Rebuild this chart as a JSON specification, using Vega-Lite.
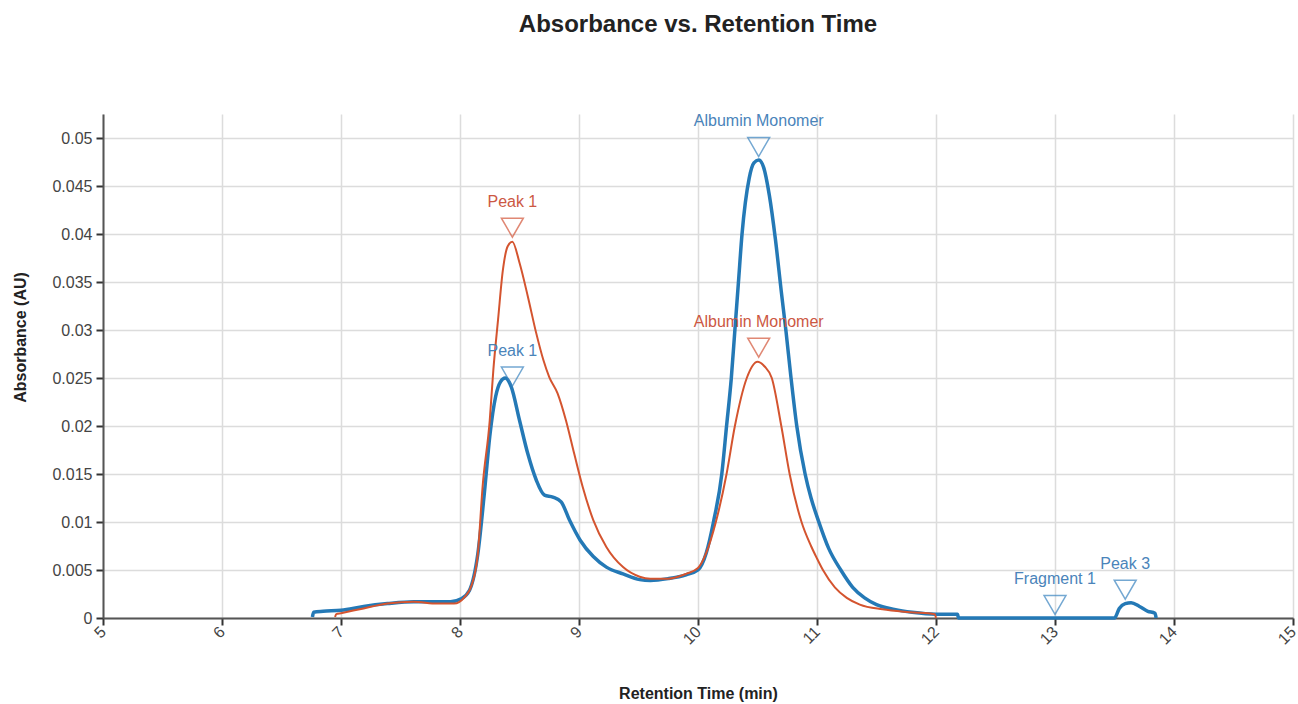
{
  "$schema": "https://vega.github.io/schema/vega-lite/v6.json",
  "width": 1190,
  "height": 504,
  "autosize": {"type": "none"},
  "padding": {"left": 103, "top": 114, "right": 5, "bottom": 86},
  "background": "white",
  "title": {
    "text": "Absorbance vs. Retention Time",
    "font": "Liberation Sans",
    "fontSize": 24,
    "fontWeight": "bold",
    "color": "#222222",
    "anchor": "middle",
    "offset": 76
  },
  "config": {
    "view": {"stroke": null},
    "axis": {
      "labelFont": "Liberation Sans",
      "labelFontSize": 16,
      "labelColor": "#444444",
      "titleFont": "Liberation Sans",
      "titleFontSize": 16,
      "titleFontWeight": "bold",
      "titleColor": "#222222",
      "domainColor": "#555555",
      "domainWidth": 2,
      "tickColor": "#333333",
      "tickWidth": 2,
      "tickSize": 7,
      "gridColor": "#dcdcdc",
      "gridWidth": 1.5
    }
  },
  "datasets": {
    "curves": [
      {"t": 6.76, "a": 0.0001, "s": "blue"},
      {"t": 6.77, "a": 0.0006, "s": "blue"},
      {"t": 6.85, "a": 0.0007, "s": "blue"},
      {"t": 7.0, "a": 0.0008, "s": "blue"},
      {"t": 7.19, "a": 0.0012, "s": "blue"},
      {"t": 7.39, "a": 0.0015, "s": "blue"},
      {"t": 7.61, "a": 0.0017, "s": "blue"},
      {"t": 7.78, "a": 0.0017, "s": "blue"},
      {"t": 7.92, "a": 0.0017, "s": "blue"},
      {"t": 8.01, "a": 0.002, "s": "blue"},
      {"t": 8.08, "a": 0.0029, "s": "blue"},
      {"t": 8.15, "a": 0.0067, "s": "blue"},
      {"t": 8.21, "a": 0.0137, "s": "blue"},
      {"t": 8.25, "a": 0.0189, "s": "blue"},
      {"t": 8.3, "a": 0.0231, "s": "blue"},
      {"t": 8.34, "a": 0.0246, "s": "blue"},
      {"t": 8.38, "a": 0.025, "s": "blue"},
      {"t": 8.43, "a": 0.0241, "s": "blue"},
      {"t": 8.5, "a": 0.0206, "s": "blue"},
      {"t": 8.57, "a": 0.0171, "s": "blue"},
      {"t": 8.64, "a": 0.0144, "s": "blue"},
      {"t": 8.71, "a": 0.0128, "s": "blue"},
      {"t": 8.78, "a": 0.0126, "s": "blue"},
      {"t": 8.85, "a": 0.0121, "s": "blue"},
      {"t": 8.92, "a": 0.0102, "s": "blue"},
      {"t": 9.01, "a": 0.0081, "s": "blue"},
      {"t": 9.12, "a": 0.0064, "s": "blue"},
      {"t": 9.23, "a": 0.0053, "s": "blue"},
      {"t": 9.37, "a": 0.0046, "s": "blue"},
      {"t": 9.51, "a": 0.004, "s": "blue"},
      {"t": 9.6, "a": 0.0039, "s": "blue"},
      {"t": 9.75, "a": 0.0041, "s": "blue"},
      {"t": 9.9, "a": 0.0045, "s": "blue"},
      {"t": 10.0, "a": 0.005, "s": "blue"},
      {"t": 10.07, "a": 0.0068, "s": "blue"},
      {"t": 10.13, "a": 0.01, "s": "blue"},
      {"t": 10.2, "a": 0.015, "s": "blue"},
      {"t": 10.24, "a": 0.02, "s": "blue"},
      {"t": 10.28, "a": 0.025, "s": "blue"},
      {"t": 10.31, "a": 0.03, "s": "blue"},
      {"t": 10.34, "a": 0.035, "s": "blue"},
      {"t": 10.37, "a": 0.04, "s": "blue"},
      {"t": 10.43, "a": 0.0458, "s": "blue"},
      {"t": 10.47, "a": 0.0474, "s": "blue"},
      {"t": 10.51, "a": 0.0477, "s": "blue"},
      {"t": 10.55, "a": 0.047, "s": "blue"},
      {"t": 10.6, "a": 0.044, "s": "blue"},
      {"t": 10.65, "a": 0.0395, "s": "blue"},
      {"t": 10.7, "a": 0.034, "s": "blue"},
      {"t": 10.74, "a": 0.0298, "s": "blue"},
      {"t": 10.78, "a": 0.0252, "s": "blue"},
      {"t": 10.83, "a": 0.02, "s": "blue"},
      {"t": 10.9, "a": 0.015, "s": "blue"},
      {"t": 10.95, "a": 0.0125, "s": "blue"},
      {"t": 11.01, "a": 0.0102, "s": "blue"},
      {"t": 11.1, "a": 0.0072, "s": "blue"},
      {"t": 11.2, "a": 0.005, "s": "blue"},
      {"t": 11.3, "a": 0.0032, "s": "blue"},
      {"t": 11.4, "a": 0.0021, "s": "blue"},
      {"t": 11.5, "a": 0.0014, "s": "blue"},
      {"t": 11.65, "a": 0.0009, "s": "blue"},
      {"t": 11.8, "a": 0.0006, "s": "blue"},
      {"t": 12.0, "a": 0.0004, "s": "blue"},
      {"t": 12.18, "a": 0.0004, "s": "blue"},
      {"t": 12.19, "a": 0.0, "s": "blue"},
      {"t": 13.5, "a": 0.0, "s": "blue"},
      {"t": 13.54, "a": 0.001, "s": "blue"},
      {"t": 13.59, "a": 0.0015, "s": "blue"},
      {"t": 13.64, "a": 0.0016, "s": "blue"},
      {"t": 13.71, "a": 0.0012, "s": "blue"},
      {"t": 13.78, "a": 0.0007, "s": "blue"},
      {"t": 13.84, "a": 0.0005, "s": "blue"},
      {"t": 13.85, "a": 0.0, "s": "blue"},
      {"t": 6.95, "a": 0.0001, "s": "red"},
      {"t": 6.96, "a": 0.0004, "s": "red"},
      {"t": 7.0, "a": 0.0005, "s": "red"},
      {"t": 7.19, "a": 0.001, "s": "red"},
      {"t": 7.39, "a": 0.0015, "s": "red"},
      {"t": 7.61, "a": 0.0017, "s": "red"},
      {"t": 7.81, "a": 0.0015, "s": "red"},
      {"t": 7.95, "a": 0.0015, "s": "red"},
      {"t": 8.04, "a": 0.0022, "s": "red"},
      {"t": 8.1, "a": 0.0035, "s": "red"},
      {"t": 8.15, "a": 0.0067, "s": "red"},
      {"t": 8.19, "a": 0.0137, "s": "red"},
      {"t": 8.25, "a": 0.0206, "s": "red"},
      {"t": 8.28, "a": 0.0258, "s": "red"},
      {"t": 8.32, "a": 0.0311, "s": "red"},
      {"t": 8.36, "a": 0.0362, "s": "red"},
      {"t": 8.4, "a": 0.0387, "s": "red"},
      {"t": 8.44, "a": 0.0392, "s": "red"},
      {"t": 8.5, "a": 0.037, "s": "red"},
      {"t": 8.57, "a": 0.0335, "s": "red"},
      {"t": 8.64, "a": 0.0297, "s": "red"},
      {"t": 8.7, "a": 0.0269, "s": "red"},
      {"t": 8.75, "a": 0.0251, "s": "red"},
      {"t": 8.82, "a": 0.0234, "s": "red"},
      {"t": 8.89, "a": 0.0206, "s": "red"},
      {"t": 8.96, "a": 0.0171, "s": "red"},
      {"t": 9.03, "a": 0.0137, "s": "red"},
      {"t": 9.12, "a": 0.0102, "s": "red"},
      {"t": 9.23, "a": 0.0074, "s": "red"},
      {"t": 9.37, "a": 0.0053, "s": "red"},
      {"t": 9.51, "a": 0.0043, "s": "red"},
      {"t": 9.6, "a": 0.0041, "s": "red"},
      {"t": 9.75, "a": 0.0041, "s": "red"},
      {"t": 9.9, "a": 0.0046, "s": "red"},
      {"t": 10.0, "a": 0.0052, "s": "red"},
      {"t": 10.07, "a": 0.0068, "s": "red"},
      {"t": 10.15, "a": 0.01, "s": "red"},
      {"t": 10.24, "a": 0.015, "s": "red"},
      {"t": 10.31, "a": 0.02, "s": "red"},
      {"t": 10.41, "a": 0.025, "s": "red"},
      {"t": 10.5, "a": 0.0267, "s": "red"},
      {"t": 10.56, "a": 0.0262, "s": "red"},
      {"t": 10.62, "a": 0.025, "s": "red"},
      {"t": 10.7, "a": 0.02, "s": "red"},
      {"t": 10.77, "a": 0.015, "s": "red"},
      {"t": 10.87, "a": 0.01, "s": "red"},
      {"t": 10.95, "a": 0.0075, "s": "red"},
      {"t": 11.0, "a": 0.0062, "s": "red"},
      {"t": 11.05, "a": 0.005, "s": "red"},
      {"t": 11.15, "a": 0.0032, "s": "red"},
      {"t": 11.25, "a": 0.0021, "s": "red"},
      {"t": 11.36, "a": 0.0014, "s": "red"},
      {"t": 11.55, "a": 0.0009, "s": "red"},
      {"t": 11.78, "a": 0.0006, "s": "red"},
      {"t": 11.99, "a": 0.0004, "s": "red"},
      {"t": 12.0, "a": 0.0, "s": "red"}
    ],
    "peaks": [
      {"t": 8.44, "a": 0.0238, "s": "blue", "label": "Peak 1"},
      {"t": 10.51, "a": 0.0477, "s": "blue", "label": "Albumin Monomer"},
      {"t": 13.0, "a": 0.0, "s": "blue", "label": "Fragment 1"},
      {"t": 13.59, "a": 0.0016, "s": "blue", "label": "Peak 3"},
      {"t": 8.44, "a": 0.0393, "s": "red", "label": "Peak 1"},
      {"t": 10.51, "a": 0.0268, "s": "red", "label": "Albumin Monomer"}
    ]
  },
  "encoding": {
    "x": {
      "field": "t",
      "type": "quantitative",
      "scale": {"domain": [5, 15], "nice": false, "zero": false},
      "axis": {
        "title": "Retention Time (min)",
        "values": [5, 6, 7, 8, 9, 10, 11, 12, 13, 14, 15],
        "labelAngle": -45,
        "labelAlign": "right",
        "labelBaseline": "middle",
        "labelPadding": 4,
        "titleY": 75,
        "titleBaseline": "middle"
      }
    },
    "y": {
      "field": "a",
      "type": "quantitative",
      "scale": {"domain": [0, 0.0525], "nice": false},
      "axis": {
        "title": "Absorbance (AU)",
        "values": [0, 0.005, 0.01, 0.015, 0.02, 0.025, 0.03, 0.035, 0.04, 0.045, 0.05],
        "format": ".3~f",
        "labelPadding": 4,
        "titleX": -83,
        "titleY": 223,
        "titleBaseline": "middle"
      }
    }
  },
  "layer": [
    {
      "data": {"name": "curves"},
      "transform": [{"filter": "datum.s === 'blue'"}],
      "mark": {"type": "line", "interpolate": "monotone", "color": "#2479b6", "strokeWidth": 3.5}
    },
    {
      "data": {"name": "curves"},
      "transform": [{"filter": "datum.s === 'red'"}],
      "mark": {"type": "line", "interpolate": "monotone", "color": "#d4542f", "strokeWidth": 2}
    },
    {
      "data": {"name": "peaks"},
      "mark": {"type": "point", "shape": "triangle-down", "size": 480, "filled": false, "strokeWidth": 1.5, "yOffset": -13},
      "encoding": {
        "stroke": {"field": "s", "type": "nominal", "scale": {"domain": ["blue", "red"], "range": ["#3a84c0", "#d4563a"]}, "legend": null}
      }
    },
    {
      "data": {"name": "peaks"},
      "mark": {"type": "text", "font": "Liberation Sans", "fontSize": 16, "baseline": "middle", "align": "center", "dy": -39},
      "encoding": {
        "text": {"field": "label"},
        "color": {"field": "s", "type": "nominal", "scale": {"domain": ["blue", "red"], "range": ["#4a84ba", "#cc5843"]}, "legend": null}
      }
    }
  ]
}
